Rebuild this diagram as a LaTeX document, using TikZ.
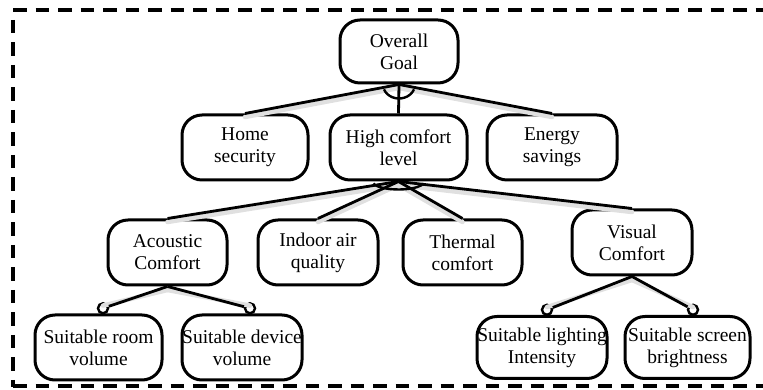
\documentclass[tikz,border=0pt]{standalone}
\usepackage{fontspec}
\setmainfont{Liberation Serif}
\begin{document}
\begin{tikzpicture}[x=1pt,y=1pt,
  goalbox/.style={draw=black, line width=3pt, rounded corners=20pt, fill=white,
    align=center, inner xsep=0pt, inner ysep=0pt,
    font=\fontsize{19.5}{22}\selectfont, minimum height=65pt},
  link/.style={line width=2.8pt, draw=black},
  linkshade/.style={line width=4.5pt, draw=black!12, line cap=round},
  andarc/.style={line width=2.4pt},
  dot/.style={circle, draw=black, line width=2.4pt, fill=white, inner sep=0pt, minimum size=10pt},
  frame/.style={line width=3.4pt, dash pattern=on 13.5pt off 9pt}]
\useasboundingbox (0,0) rectangle (763,390);

% dashed frame
\draw[frame] (13,380) -- (763,380);
\draw[frame] (13,370) -- (13,3);
\draw[frame] (13,4) -- (763,4);

% goals
\node[goalbox, minimum width=118pt, minimum height=63pt] (goal) at (399,338.5) {Overall\\Goal};
\node[goalbox, minimum width=126pt] (home) at (245,242.5) {Home\\security};
\node[goalbox, minimum width=137pt] (high) at (398.5,242.5) {High comfort\\level};
\node[goalbox, minimum width=130pt] (energy) at (552,242.5) {Energy\\savings};
\node[goalbox, minimum width=119pt] (acoustic) at (167.5,137.5) {Acoustic\\Comfort};
\node[goalbox, minimum width=120pt] (indoor) at (318,137.5) {Indoor air\\quality};
\node[goalbox, minimum width=119pt] (thermal) at (462.5,137.5) {Thermal\\comfort};
\node[goalbox, minimum width=120pt] (visual) at (632,147.5) {Visual\\Comfort};
\node[goalbox, minimum width=127pt] (room) at (98.5,42.5) {Suitable room\\volume};
\node[goalbox, minimum width=120pt] (device) at (242,42.5) {Suitable device\\volume};
\node[goalbox, minimum width=130pt, minimum height=62pt] (lighting) at (542,42.5) {Suitable lighting\\Intensity};
\node[goalbox, minimum width=125pt, minimum height=62pt] (screen) at (687.5,42.5) {Suitable screen\\brightness};

% contribution end markers
\node[dot, anchor=south] (c1) at ([xshift=4.5pt,yshift=-1pt]room.north) {};
\node[dot, anchor=south] (c2) at ([xshift=8pt,yshift=-1pt]device.north) {};
\node[dot, anchor=south] (c3) at ([xshift=5pt,yshift=-1pt]lighting.north) {};
\node[dot, anchor=south] (c4) at ([xshift=5.5pt,yshift=-1pt]screen.north) {};

% soft shading under the links
\foreach \a/\b in {goal/home, goal/energy, high/acoustic, high/indoor, high/thermal, high/visual,
                   acoustic/c1, acoustic/c2, visual/c3, visual/c4}
  \draw[linkshade] ([yshift=-3.5pt]\a.south) -- ([yshift=-3.5pt]\b.north);

% AND decompositions
\draw[link] (goal.south) -- (home.north);
\draw[link] (goal.south) -- (high.north);
\draw[link] (goal.south) -- (energy.north);
\draw[andarc] ([shift={(200:16pt and 14pt)}]goal.south) arc[start angle=200, end angle=340, x radius=16pt, y radius=14pt];

\draw[link] (high.south) -- (acoustic.north);
\draw[link] (high.south) -- (indoor.north);
\draw[link] (high.south) -- (thermal.north);
\draw[link] (high.south) -- (visual.north);
\draw[andarc] ([shift={(195:26pt and 8pt)}]high.south) arc[start angle=195, end angle=345, x radius=26pt, y radius=8pt];

% OR decompositions
\draw[link] (acoustic.south) -- (c1);
\draw[link] (acoustic.south) -- (c2);
\draw[link] (visual.south) -- (c3);
\draw[link] (visual.south) -- (c4);
\end{tikzpicture}
\end{document}
